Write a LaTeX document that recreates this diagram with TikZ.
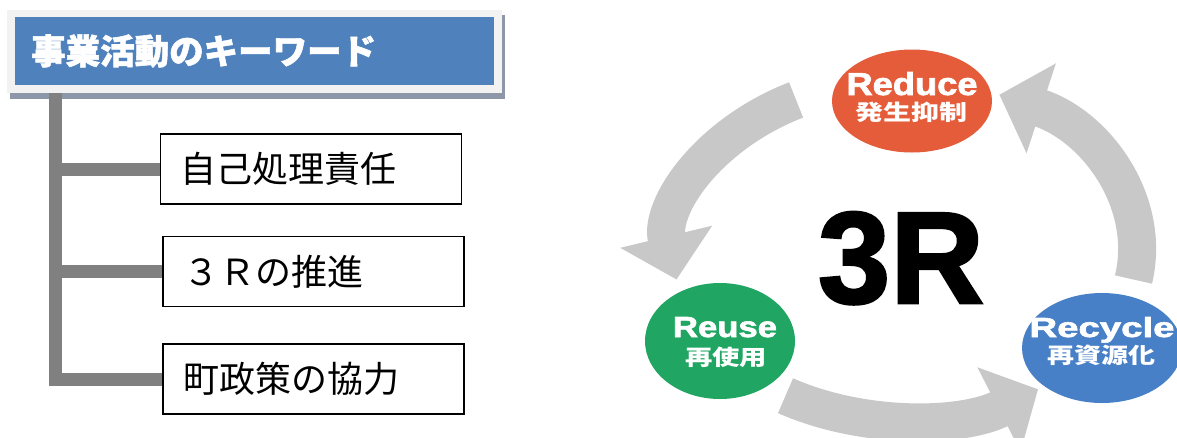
\documentclass[tikz,border=0pt]{standalone}
\usepackage{graphicx}
\usepackage{fontspec}
\newfontfamily\jpfont{Noto Sans CJK JP}
\newfontfamily\jpheavy[BoldFeatures={FakeBold=1.5}]{Noto Sans CJK JP}
\newfontfamily\enfont{Liberation Sans}
\newfontfamily\enheavy[BoldFeatures={FakeBold=2}]{Liberation Sans}
\usetikzlibrary{arrows.meta,shapes.geometric,calc}
\definecolor{headblue}{RGB}{79,129,189}
\definecolor{framegray}{RGB}{242,242,242}
\definecolor{shadowgray}{RGB}{140,151,168}
\definecolor{trunkgray}{RGB}{128,128,128}
\definecolor{arrowgray}{RGB}{200,200,200}
\definecolor{reducered}{RGB}{229,92,58}
\definecolor{reusegreen}{RGB}{32,166,98}
\definecolor{recycleblue}{RGB}{72,128,200}
\begin{document}
\begin{tikzpicture}[x=1pt,y=-1pt,
  keybox/.style={draw=black,line width=1.3pt,minimum width=301pt,minimum height=70pt,
    text width=261pt,inner xsep=20pt,align=left,font=\jpfont\fontsize{36}{36}\selectfont},
  trunk/.style={draw=trunkgray,line width=13pt},
  blob/.style={ellipse,inner sep=0pt},
  ringarrow/.style={draw=arrowgray,line width=38pt,-{Triangle[width=92pt,length=44pt]}},
  tag/.style={text=white,inner sep=0pt,anchor=base}]
\useasboundingbox (0,0) rectangle (1177,437);
\fill[shadowgray] (10,15) rectangle (505,99);
\fill[framegray] (7,10) rectangle (502,93);
\node[fill=headblue,minimum width=479pt,minimum height=68pt,inner sep=0pt] (head) at (254.5,51) {};
\node[anchor=west,text=white,inner sep=0pt,font=\jpheavy\bfseries\fontsize{34.5}{34.5}\selectfont] (title) at (31,51) {事業活動のキーワード};
\node[keybox] (self) at (311,169) {自己処理責任};
\node[keybox] (threer) at (313.5,271.5) {３Ｒの推進};
\node[keybox] (town) at (313.5,379) {町政策の協力};
\coordinate (root) at (55,93);
\draw[trunk] (root) |- (town.west);
\draw[trunk] (root |- self.west) -- (self.west);
\draw[trunk] (root |- threer.west) -- (threer.west);
\coordinate (ring) at (905,250);
\draw[ringarrow] ($(ring)+(118:232pt and 170pt)$) arc[start angle=118,end angle=190,x radius=232pt,y radius=170pt];
\draw[ringarrow] ($(ring)+(239:232pt and 170pt)$) arc[start angle=239,end angle=305,x radius=232pt,y radius=170pt];
\draw[ringarrow] ($(ring)+(-10:232pt and 170pt)$) arc[start angle=-10,end angle=66,x radius=232pt,y radius=170pt];
\node[blob,fill=reducered,minimum width=160pt,minimum height=103pt] (reduce) at (912,101) {};
\node[blob,fill=reusegreen,minimum width=150pt,minimum height=116pt] (reuse) at (720,341) {};
\node[blob,fill=recycleblue,minimum width=160pt,minimum height=110pt] (recycle) at (1102,348) {};
\node[tag] (reduceen) at (912,95) {\resizebox{131pt}{23pt}{\enheavy\bfseries Reduce}};
\node[tag] (reducejp) at (911,120.5) {\resizebox{112pt}{18.5pt}{\jpfont\bfseries 発生抑制}};
\node[tag] (reuseen) at (725,337) {\resizebox{104pt}{20pt}{\enheavy\bfseries Reuse}};
\node[tag] (reusejp) at (726,365.5) {\resizebox{82pt}{18.5pt}{\jpfont\bfseries 再使用}};
\node[tag] (recycleen) at (1102,337) {\resizebox{145pt}{20pt}{\enheavy\bfseries Recycle}};
\node[tag] (recyclejp) at (1101,363.5) {\resizebox{108pt}{18.5pt}{\jpfont\bfseries 再資源化}};
\node[anchor=base,inner sep=0pt] (threeR) at (901,303) {\resizebox{166pt}{91pt}{\enheavy\bfseries 3R}};
\end{tikzpicture}
\end{document}
